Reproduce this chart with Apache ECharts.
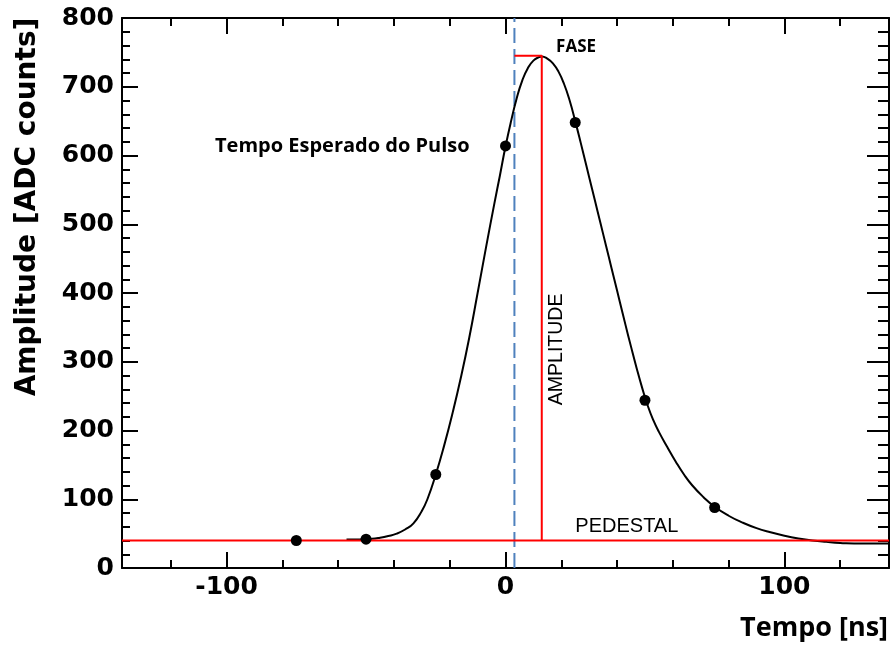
<!DOCTYPE html>
<html>
<head>
<meta charset="utf-8">
<script src="https://cdn.jsdelivr.net/npm/echarts@6/dist/echarts.min.js"></script>
<style>html,body{margin:0;padding:0;background:#fff}#c{width:893px;height:651px}</style>
</head>
<body>
<div id="c"></div>
<script>
// ---- data ----
const curveTime = [-57, -52, -48, -45, -42, -39, -36, -33, -30, -28, -25, -22, -19, -16, -13, -10, -7, -4, -2, 0, 2, 4, 6, 8, 10, 12, 13, 15, 17, 19, 21, 23, 25, 27, 29, 31, 33, 35, 37, 39, 41, 43, 45, 47, 49, 51, 53, 55, 58, 61, 64, 67, 71, 75, 80, 85, 90, 95, 100, 105, 110, 115, 120, 128, 137.5];
const curveAmp  = [41.5, 42, 42.5, 44, 46.5, 50, 56, 65, 83, 100, 136, 178, 225, 277, 335, 400, 466, 530, 571, 613, 650, 683, 709, 727, 738, 743, 744, 741, 734, 722, 704, 680, 650, 618, 585, 552, 519, 486, 453, 420, 387, 354, 322, 291, 262, 236, 215, 198, 176, 155, 136, 120, 103, 89, 76, 66, 58, 52, 47, 43, 40, 38, 36.5, 35.5, 35.5];
const sampleTime = [-75, -50, -25, 0, 25, 50, 75];
const sampleAmp  = [40, 42, 136, 614, 648, 244, 88];
const pedestal = 40;
const phaseTime = 13;
const peakAmp = 745;
const expectedTime = 3.2;
const xRange = [-137.5, 137.5];
const yRange = [0, 800];
const xMajorTicks = [-100, 0, 100];
const xMinorTicks = [-120, -80, -60, -40, -20, 20, 40, 60, 80, 120];
const labelExpected = 'Tempo Esperado do Pulso';
const labelPhase = 'FASE';
const labelAmplitude = 'AMPLITUDE';
const labelPedestal = 'PEDESTAL';
const xTitle = 'Tempo [ns]';
const yTitle = 'Amplitude [ADC counts]';

// ---- chart ----
const chart = echarts.init(document.getElementById('c'), null, {renderer: 'canvas'});
const gridRect = {left: 122, right: 4, top: 18, bottom: 83};
const black = '#000';
const tickFont = {fontFamily: 'DejaVu Sans', fontWeight: 'bold', fontSize: 25, color: black};

function xAx(grid, pos, ticks, len, showLine, showLabel) {
  return {
    type: 'value', gridIndex: grid, position: pos, min: xRange[0], max: xRange[1],
    axisLine: {show: showLine, onZero: false, lineStyle: {color: black, width: 2}},
    axisTick: {show: true, inside: true, length: len, customValues: ticks, lineStyle: {color: black, width: 2}},
    axisLabel: Object.assign({show: showLabel, customValues: ticks, margin: 7}, tickFont),
    splitLine: {show: false}
  };
}
function yAx(grid, pos, len, minLen, showLabel, show) {
  return {
    type: 'value', gridIndex: grid, position: pos, min: yRange[0], max: yRange[1], interval: 100, show: show,
    axisLine: {show: true, onZero: false, lineStyle: {color: black, width: 2}},
    axisTick: {show: true, inside: true, length: len, lineStyle: {color: black, width: 2}},
    minorTick: {show: true, splitNumber: 5, length: minLen, lineStyle: {color: black, width: 2}},
    axisLabel: Object.assign({show: showLabel, margin: 8}, tickFont),
    splitLine: {show: false}, minorSplitLine: {show: false}
  };
}

const curveData = curveTime.map((t, i) => [t, curveAmp[i]]);
const sampleData = sampleTime.map((t, i) => [t, sampleAmp[i]]);

const annotFont = {fontFamily: 'Open Sans', fontWeight: 'bold', color: '#000'};
const option = {
  animation: false,
  backgroundColor: '#fff',
  grid: [Object.assign({}, gridRect), Object.assign({}, gridRect)],
  xAxis: [
    xAx(0, 'bottom', xMajorTicks, 16, true, true),
    xAx(0, 'top', xMajorTicks, 16, true, false),
    xAx(1, 'bottom', xMinorTicks, 8, false, false),
    xAx(1, 'top', xMinorTicks, 8, false, false)
  ],
  yAxis: [
    yAx(0, 'left', 16, 8, true, true),
    yAx(0, 'right', 22, 11, false, true),
    yAx(1, 'left', 16, 8, false, false),
    yAx(1, 'right', 16, 8, false, false)
  ],
  series: [
    {
      type: 'line', xAxisIndex: 0, yAxisIndex: 0, data: curveData, smooth: 0.5,
      showSymbol: false, lineStyle: {color: black, width: 2}, z: 3
    },
    {
      type: 'line', xAxisIndex: 0, yAxisIndex: 0, showSymbol: false, z: 4,
      data: [[xRange[0], pedestal], [xRange[1], pedestal]],
      lineStyle: {color: '#ff0000', width: 2}
    },
    {
      type: 'line', xAxisIndex: 0, yAxisIndex: 0, showSymbol: false, z: 4,
      data: [[expectedTime, peakAmp], [phaseTime, peakAmp], [phaseTime, pedestal]],
      lineStyle: {color: '#ff0000', width: 2}
    },
    {
      type: 'line', xAxisIndex: 0, yAxisIndex: 0, showSymbol: false, z: 2,
      data: [[expectedTime, yRange[0]], [expectedTime, yRange[1]]],
      lineStyle: {color: '#4f81bd', width: 2, type: [15, 6]}
    },
    {
      type: 'scatter', xAxisIndex: 0, yAxisIndex: 0, data: sampleData, symbolSize: 11,
      itemStyle: {color: black, opacity: 1}, z: 5
    },
    {
      type: 'scatter', xAxisIndex: 0, yAxisIndex: 0, symbolSize: 0, silent: true, z: 6,
      itemStyle: {color: black, opacity: 1},
      label: {show: true, position: 'inside'},
      data: [
        {value: [-58.5, 613], label: Object.assign({formatter: labelExpected, fontSize: 20}, annotFont)},
        {value: [25.3, 758], label: Object.assign({formatter: labelPhase, fontSize: 17}, annotFont)},
        {value: [18.2, 318], label: {formatter: labelAmplitude, fontSize: 19.5, rotate: 90, fontFamily: 'Liberation Sans', color: '#000'}},
        {value: [43.5, 61], label: {formatter: labelPedestal, fontSize: 20, fontFamily: 'Liberation Sans', color: '#000'}}
      ]
    }
  ],
  graphic: [
    {type: 'text', x: 888, y: 628, style: {text: xTitle, fontFamily: 'Open Sans', fontWeight: 'bold', fontSize: 27, fill: black, align: 'right', verticalAlign: 'middle'}},
    {type: 'text', x: 28, y: 207, rotation: Math.PI / 2, style: {text: yTitle, fontFamily: 'DejaVu Sans', fontWeight: 'bold', fontSize: 28, fill: black, align: 'center', verticalAlign: 'middle'}}
  ]
};
chart.setOption(option);
</script>
</body>
</html>
